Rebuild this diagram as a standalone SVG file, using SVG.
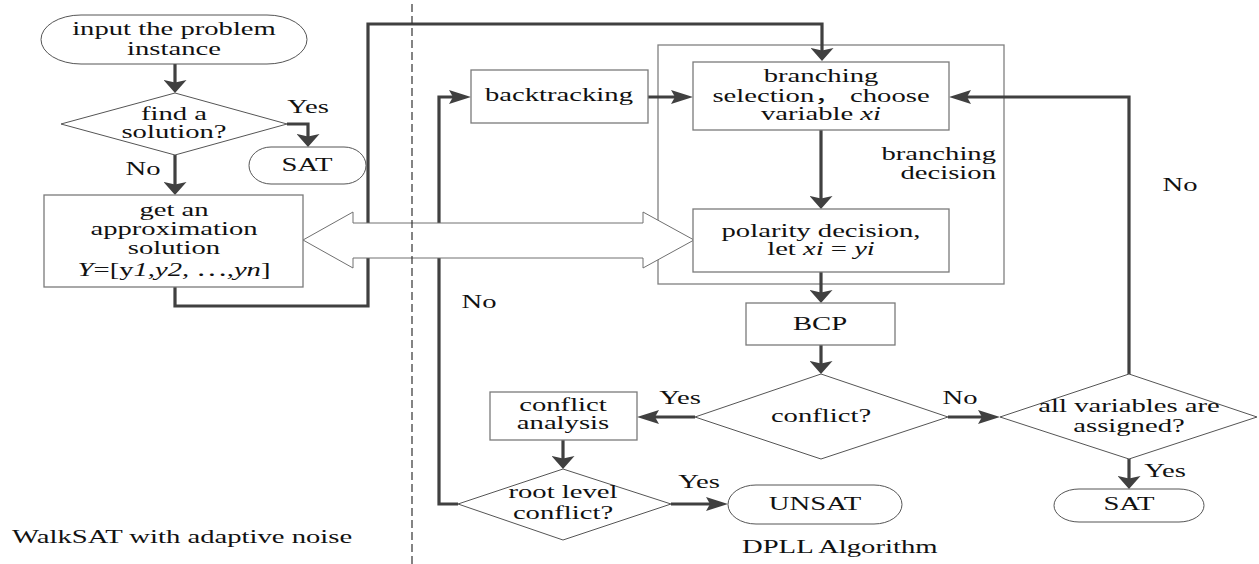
<svg xmlns="http://www.w3.org/2000/svg" width="1259" height="564" viewBox="0 0 1259 564">
<style>
.t{font-size:18.5px;fill:#111;text-anchor:middle}
.e{text-anchor:end}
.s{text-anchor:start}
.i{font-style:italic}
.box{fill:#fff;stroke:#7a7a7a;stroke-width:1.3}
.shape{fill:#fff;stroke:#555;stroke-width:1}
.c{fill:none;stroke:#404040;stroke-width:3.2;stroke-linecap:butt;stroke-linejoin:miter}
</style>
<defs>
<marker id="ah" markerUnits="userSpaceOnUse" viewBox="0 0 22 14" markerWidth="22" markerHeight="14" refX="16" refY="7" orient="auto"><path d="M0,0 L22,7 L0,14 L4,7 z" fill="#404040"/></marker>
<marker id="av" markerUnits="userSpaceOnUse" viewBox="0 0 13 23" markerWidth="13" markerHeight="23" refX="7" refY="11.5" orient="auto"><path d="M0,0 L13,11.5 L0,23 L2.5,11.5 z" fill="#404040"/></marker>
</defs>
<rect width="1259" height="564" fill="#fff"/>
<g font-family="'Liberation Serif', 'Noto Sans CJK SC', serif">

<g id="frame"><rect x="658" y="45" width="346" height="239" fill="none" stroke="#808080" stroke-width="1.3"/>
<text class="t e" transform="translate(996,160) scale(1.55,1)">branching</text>
<text class="t e" transform="translate(996,179) scale(1.55,1)">decision</text></g>

<g id="connectors">
<path class="c" d="M175,64 V87" marker-end="url(#av)"/>
<path class="c" d="M287,124 H308 V141" marker-end="url(#av)"/>
<path class="c" d="M175,155 V189" marker-end="url(#av)"/>
<path class="c" d="M175,287 V306 H368 V24 H822 V55" marker-end="url(#av)"/>
<path class="c" d="M648,97 H687" marker-end="url(#ah)"/>
<path class="c" d="M821,130 V203" marker-end="url(#av)"/>
<path class="c" d="M821,272 V297" marker-end="url(#av)"/>
<path class="c" d="M821,345 V368" marker-end="url(#av)"/>
<path class="c" d="M695,417 H643" marker-end="url(#ah)"/>
<path class="c" d="M563,440 V463" marker-end="url(#av)"/>
<path class="c" d="M671,504 H722" marker-end="url(#ah)"/>
<path class="c" d="M458,504 H439 V97 H465" marker-end="url(#ah)"/>
<path class="c" d="M948,417 H994" marker-end="url(#ah)"/>
<path class="c" d="M1129,459 V483" marker-end="url(#av)"/>
<path class="c" d="M1129,374 V97 H955" marker-end="url(#ah)"/>
</g>

<g id="exchange-arrow"><polygon points="303,240 353,212 353,223 643,223 643,212 694,240 643,268 643,258 353,258 353,268" fill="#fff" stroke="#707070" stroke-width="1"/></g>

<line id="divider" x1="412" y1="4" x2="412" y2="564" stroke="#333" stroke-width="1.2" stroke-dasharray="8,4"/>

<g id="input"><rect class="shape" x="41" y="15" width="266" height="49" rx="40" ry="24.5"/>
<text class="t" transform="translate(174,35) scale(1.55,1)">input the problem</text>
<text class="t" transform="translate(174,55) scale(1.55,1)">instance</text></g>

<g id="find"><polygon class="shape" points="61,124 175,93 287,124 175,155"/>
<text class="t" transform="translate(174,120) scale(1.55,1)">find a</text>
<text class="t" transform="translate(174,138) scale(1.55,1)">solution?</text></g>

<g id="sat1"><rect class="shape" x="249" y="147" width="117" height="37" rx="22" ry="18.5"/>
<text class="t" transform="translate(307,171) scale(1.55,1)">SAT</text></g>

<g id="approx"><rect class="box" x="44" y="195" width="259" height="92"/>
<text class="t" transform="translate(174,216) scale(1.55,1)">get an</text>
<text class="t" transform="translate(174,235) scale(1.55,1)">approximation</text>
<text class="t" transform="translate(174,254) scale(1.55,1)">solution</text>
<text class="t" transform="translate(174,276) scale(1.55,1)"><tspan class="i">Y</tspan>=[y<tspan class="i">1,y2, </tspan>⋯<tspan class="i">,yn</tspan>]</text></g>

<g id="backtracking"><rect class="box" x="471" y="70" width="177" height="53"/>
<text class="t" transform="translate(559,101) scale(1.55,1)">backtracking</text></g>

<g id="branching"><rect class="box" x="693" y="62" width="256" height="68"/>
<text class="t" transform="translate(821,82) scale(1.55,1)">branching</text>
<text class="t" transform="translate(821,102) scale(1.55,1)">selection，  choose</text>
<text class="t" transform="translate(821,120) scale(1.55,1)">variable <tspan class="i">xi</tspan></text></g>

<g id="polarity"><rect class="box" x="693" y="209" width="256" height="63"/>
<text class="t" transform="translate(821,237) scale(1.55,1)">polarity decision,</text>
<text class="t" transform="translate(821,255) scale(1.55,1)">let <tspan class="i">xi</tspan> = <tspan class="i">yi</tspan></text></g>

<g id="bcp"><rect class="box" x="746" y="303" width="149" height="42"/>
<text class="t" transform="translate(820,330) scale(1.55,1)">BCP</text></g>

<g id="conflict"><polygon class="shape" points="695,417 821,374 948,417 821,459"/>
<text class="t" transform="translate(821,422) scale(1.55,1)">conflict?</text></g>

<g id="analysis"><rect class="box" x="490" y="392" width="147" height="48"/>
<text class="t" transform="translate(563,411) scale(1.55,1)">conflict</text>
<text class="t" transform="translate(563,429) scale(1.55,1)">analysis</text></g>

<g id="root"><polygon class="shape" points="458,504 563,469 671,504 563,540"/>
<text class="t" transform="translate(563,498) scale(1.55,1)">root level</text>
<text class="t" transform="translate(563,519) scale(1.55,1)">conflict?</text></g>

<g id="unsat"><rect class="shape" x="728" y="485" width="174" height="39" rx="28" ry="19.5"/>
<text class="t" transform="translate(815,510) scale(1.55,1)">UNSAT</text></g>

<g id="allassigned"><polygon class="shape" points="1000,417 1129,374 1257,417 1129,459"/>
<text class="t" transform="translate(1129,412) scale(1.55,1)">all variables are</text>
<text class="t" transform="translate(1129,432) scale(1.55,1)">assigned?</text></g>

<g id="sat2"><rect class="shape" x="1054" y="489" width="150" height="33" rx="25" ry="16.5"/>
<text class="t" transform="translate(1129,510) scale(1.55,1)">SAT</text></g>

<g id="labels">
<text class="t" transform="translate(308,113) scale(1.55,1)">Yes</text>
<text class="t" transform="translate(143,175) scale(1.55,1)">No</text>
<text class="t" transform="translate(479,308) scale(1.55,1)">No</text>
<text class="t" transform="translate(1180,191) scale(1.55,1)">No</text>
<text class="t" transform="translate(680,404) scale(1.55,1)">Yes</text>
<text class="t" transform="translate(960,404) scale(1.55,1)">No</text>
<text class="t" transform="translate(699,488) scale(1.55,1)">Yes</text>
<text class="t" transform="translate(1165,477) scale(1.55,1)">Yes</text>
<text class="t s" transform="translate(12,543) scale(1.55,1)">WalkSAT with adaptive noise</text>
<text class="t s" transform="translate(742,553) scale(1.55,1)">DPLL Algorithm</text>
</g>
</g>
</svg>
